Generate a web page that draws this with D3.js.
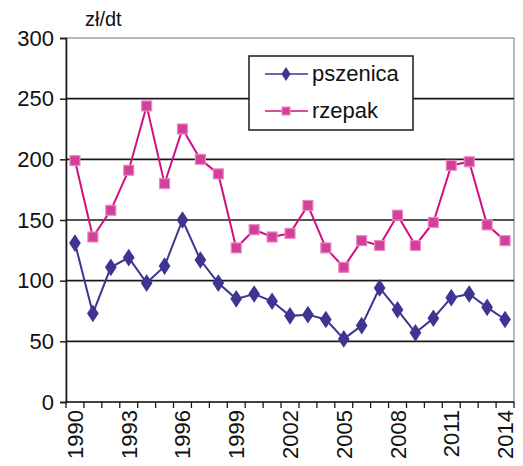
<!DOCTYPE html>
<html>
<head>
<meta charset="utf-8">
<script src="https://cdn.jsdelivr.net/npm/d3@7"></script>
<style>
  body { margin: 0; background: #fff; }
  text { font-family: "Liberation Sans", Arial, sans-serif; fill: #111; }
</style>
</head>
<body>
<svg id="chart" width="523" height="466"></svg>
<script>
// years on the category axis
var years = d3.range(1990, 2015);
var yearLabels = ["1990", "1993", "1996", "1999", "2002", "2005", "2008", "2011", "2014"];

// prices in zł/dt
var pszenica = [131, 73, 111, 119, 98, 112, 150, 117, 98, 85, 89, 83, 71, 72, 68, 52, 63, 94, 76, 57, 69, 86, 89, 78, 68];
var rzepak = [199, 136, 158, 191, 244, 180, 225, 200, 188, 127, 142, 136, 139, 162, 127, 111, 133, 129, 154, 129, 148, 195, 198, 146, 133];

var yTicks = [0, 50, 100, 150, 200, 250, 300];

var svg = d3.select("#chart");
var plotLeft = 66, plotRight = 514, plotTop = 38, plotBottom = 402;

var x = d3.scaleBand().domain(years).range([plotLeft, plotRight]);
var y = d3.scaleLinear().domain([0, 300]).range([plotBottom, plotTop]);
var cx = d => x(d) + x.bandwidth() / 2;

// plot border (light)
svg.append("rect")
  .attr("x", plotLeft).attr("y", plotTop)
  .attr("width", plotRight - plotLeft).attr("height", plotBottom - plotTop)
  .attr("fill", "none").attr("stroke", "#777").attr("stroke-width", 1);

// gridlines
svg.append("g").selectAll("line")
  .data(yTicks.filter(d => d > 0 && d < 300))
  .enter().append("line")
  .attr("x1", plotLeft).attr("x2", plotRight)
  .attr("y1", d => y(d)).attr("y2", d => y(d))
  .attr("stroke", "#1a1a1a").attr("stroke-width", 1.6);

// y axis
var yAxis = svg.append("g")
  .attr("transform", "translate(" + plotLeft + ",0)")
  .call(d3.axisLeft(y).tickValues(yTicks).tickSize(6).tickPadding(6));
yAxis.select(".domain").attr("stroke", "#1a1a1a").attr("stroke-width", 1.6);
yAxis.selectAll(".tick line").attr("stroke", "#1a1a1a").attr("stroke-width", 1.5);
yAxis.selectAll(".tick text")
  .style("font-size", "22px").style("font-family", "Liberation Sans, Arial, sans-serif")
  .attr("fill", "#111");

// x axis line and ticks at band edges
svg.append("line")
  .attr("x1", plotLeft).attr("x2", plotRight).attr("y1", plotBottom).attr("y2", plotBottom)
  .attr("stroke", "#1a1a1a").attr("stroke-width", 1.6);
svg.append("g").selectAll("line")
  .data(years.concat([2015]))
  .enter().append("line")
  .attr("x1", d => d === 2015 ? plotRight : x(d))
  .attr("x2", d => d === 2015 ? plotRight : x(d))
  .attr("y1", plotBottom).attr("y2", plotBottom + 6)
  .attr("stroke", "#1a1a1a").attr("stroke-width", 1.3);

// rotated year labels
svg.append("g").selectAll("text")
  .data(yearLabels)
  .enter().append("text")
  .attr("transform", d => "translate(" + (cx(+d) + 8) + "," + (plotBottom + 8) + ") rotate(-90)")
  .attr("text-anchor", "end")
  .style("font-size", "22px")
  .text(d => d);

// unit label
svg.append("text")
  .attr("x", 85).attr("y", 26)
  .style("font-size", "20px")
  .text("zł/dt");

var line = d3.line().x((d, i) => cx(years[i])).y(d => y(d));

// rzepak series
svg.append("path")
  .datum(rzepak)
  .attr("d", line)
  .attr("fill", "none").attr("stroke", "#d01080").attr("stroke-width", 2);
svg.append("g").selectAll("rect")
  .data(rzepak)
  .enter().append("rect")
  .attr("x", (d, i) => cx(years[i]) - 5).attr("y", d => y(d) - 5)
  .attr("width", 10).attr("height", 10)
  .attr("fill", "#d2409a").attr("stroke", "#e889c0").attr("stroke-width", 1.2);

// pszenica series
var diamond = d3.symbol().type(d3.symbolDiamond).size(90);
svg.append("path")
  .datum(pszenica)
  .attr("d", line)
  .attr("fill", "none").attr("stroke", "#3d3591").attr("stroke-width", 2);
svg.append("g").selectAll("path")
  .data(pszenica)
  .enter().append("path")
  .attr("d", diamond)
  .attr("transform", (d, i) => "translate(" + cx(years[i]) + "," + y(d) + ") scale(1.15,1)")
  .attr("fill", "#3d3591");

// legend
var lg = svg.append("g");
lg.append("rect")
  .attr("x", 249).attr("y", 56).attr("width", 164).attr("height", 74)
  .attr("fill", "#fff").attr("stroke", "#1a1a1a").attr("stroke-width", 1.5);
var legendItems = [
  { name: "pszenica", color: "#3d3591", ly: 74 },
  { name: "rzepak", color: "#d01080", ly: 111 }
];
var smallDiamond = d3.symbol().type(d3.symbolDiamond).size(55);
legendItems.forEach(function(it, k) {
  lg.append("line")
    .attr("x1", 265).attr("x2", 308).attr("y1", it.ly).attr("y2", it.ly)
    .attr("stroke", it.color).attr("stroke-width", 1.6);
  if (k === 0) {
    lg.append("path").attr("d", smallDiamond)
      .attr("transform", "translate(286," + it.ly + ") scale(1.15,1)")
      .attr("fill", it.color);
  } else {
    lg.append("rect").attr("x", 282).attr("y", it.ly - 4).attr("width", 8).attr("height", 8)
      .attr("fill", "#d2409a").attr("stroke", "#e889c0").attr("stroke-width", 1);
  }
  lg.append("text")
    .attr("x", 312).attr("y", it.ly + 7)
    .style("font-size", "22px")
    .text(it.name);
});
</script>
</body>
</html>
